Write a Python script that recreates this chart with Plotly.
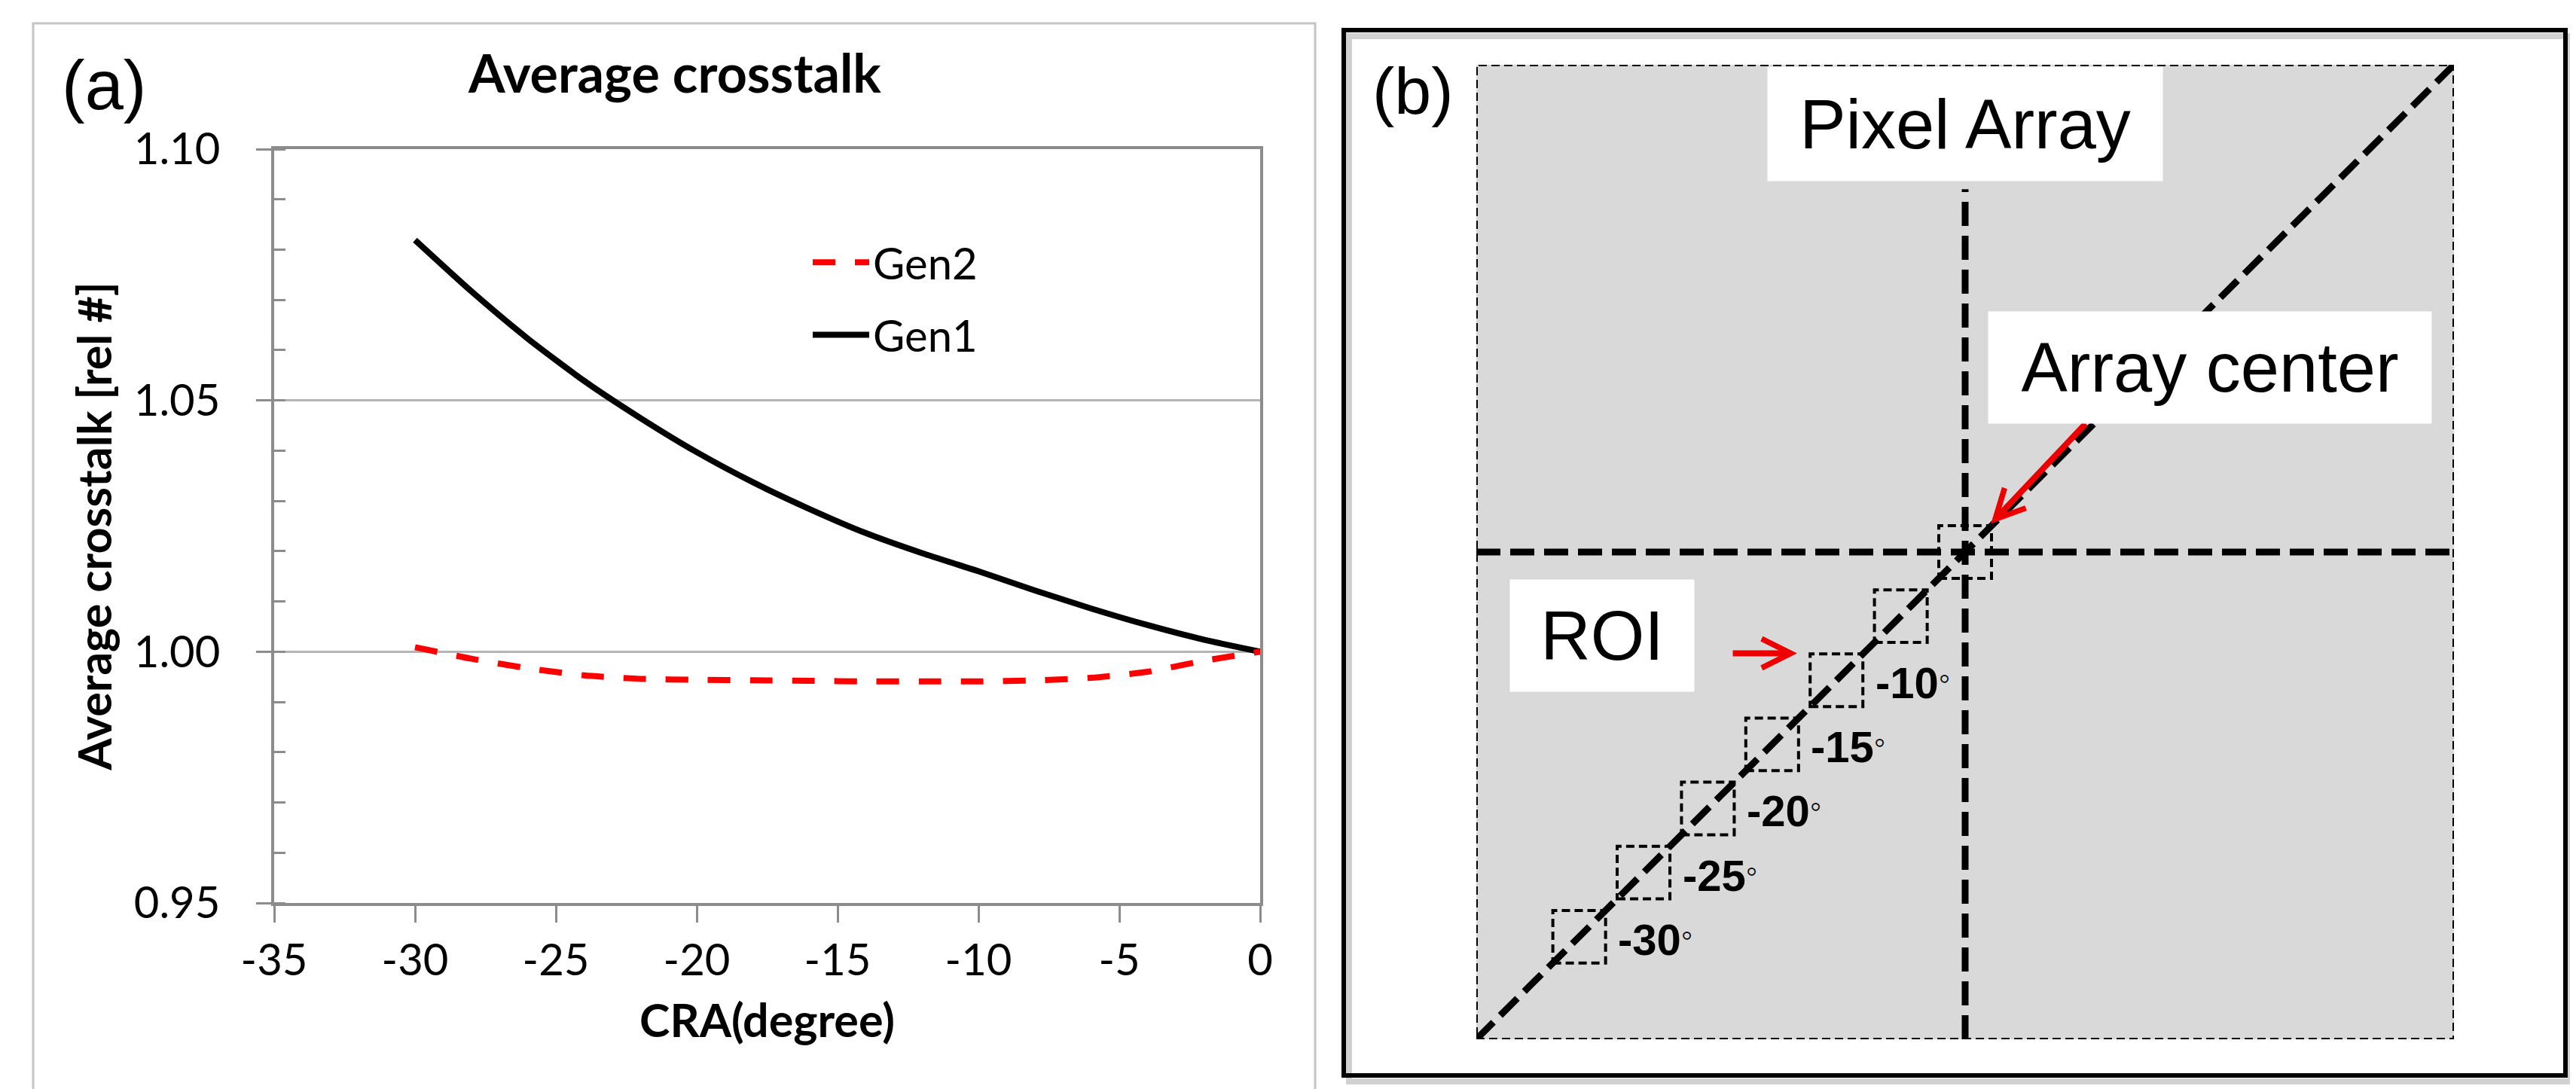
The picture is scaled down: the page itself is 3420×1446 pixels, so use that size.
import plotly.graph_objects as go

# ---- data: panel (a) average crosstalk vs chief ray angle ----
cra = [-30, -28, -26, -24, -22, -20, -18, -16, -14, -12, -10, -8, -6, -4, -2, 0]
gen1 = [1.0819, 1.0717, 1.0623, 1.0539, 1.0465, 1.0397, 1.0337, 1.0284,
        1.0236, 1.0196, 1.0160, 1.0122, 1.0086, 1.0053, 1.0024, 1.0000]
gen2 = [1.0009, 0.9986, 0.9967, 0.9953, 0.9946, 0.9944, 0.9943, 0.9942,
        0.9941, 0.9941, 0.9941, 0.9943, 0.9948, 0.9960, 0.9982, 1.0000]
x_ticks = [-35, -30, -25, -20, -15, -10, -5, 0]
x_tick_labels = ["-35", "-30", "-25", "-20", "-15", "-10", "-5", "0"]

# ---- data: panel (b) ROI positions along the array diagonal (degrees) ----
roi_angles = [0, -5, -10, -15, -20, -25, -30]
labeled_angles = [-10, -15, -20, -25, -30]

W, H = 3420, 1446
CAL = "Lato"
ARIAL = "Liberation Sans"
SPAN = 38          # half width of pixel array in degree units
BOX = 2.05         # half size of an ROI box


def px_x(p):
    return p / W


def px_y(p):
    return 1 - p / H


fig = go.Figure()

# panel (a) curves
fig.add_trace(go.Scatter(
    x=cra, y=gen1, mode="lines", name="Gen1",
    line=dict(color="black", width=8, shape="spline", smoothing=0.6),
    legendgroup="g1", legendrank=2, xaxis="x", yaxis="y"))
fig.add_trace(go.Scatter(
    x=cra, y=gen2, mode="lines", name="Gen2",
    line=dict(color="#ff0000", width=8, dash="30px,26px", shape="spline", smoothing=0.6),
    legendgroup="g2", legendrank=1, xaxis="x", yaxis="y"))

# panel (b) guide lines through array center
dash_thick = dict(color="black", width=9, dash="32px,13px")
fig.add_trace(go.Scatter(x=[-SPAN, SPAN], y=[-SPAN, SPAN], mode="lines",
                         line=dash_thick, showlegend=False, hoverinfo="skip",
                         xaxis="x2", yaxis="y2"))
fig.add_trace(go.Scatter(x=[-SPAN, SPAN], y=[roi_angles[0], roi_angles[0]], mode="lines",
                         line=dash_thick, showlegend=False, hoverinfo="skip",
                         xaxis="x2", yaxis="y2"))
fig.add_trace(go.Scatter(x=[roi_angles[0], roi_angles[0]], y=[-SPAN, 28.3], mode="lines",
                         line=dash_thick, showlegend=False, hoverinfo="skip",
                         xaxis="x2", yaxis="y2"))

shapes = []
# panel frames
shapes.append(dict(type="rect", xref="paper", yref="paper",
                   x0=px_x(36), x1=px_x(1738), y0=px_y(1444), y1=px_y(23),
                   line=dict(color="#c4c4c4", width=3), layer="below"))
shapes.append(dict(type="rect", xref="paper", yref="paper",
                   x0=px_x(1783), x1=px_x(3405), y0=px_y(1428), y1=px_y(40),
                   line=dict(color="rgba(0,0,0,0.18)", width=8), layer="below"))
shapes.append(dict(type="rect", xref="paper", yref="paper",
                   x0=px_x(1776), x1=px_x(3398), y0=px_y(1420), y1=px_y(32),
                   line=dict(color="black", width=6), layer="below"))
# pixel array
shapes.append(dict(type="rect", xref="x2", yref="y2",
                   x0=-SPAN, x1=SPAN, y0=-SPAN, y1=SPAN,
                   fillcolor="#d9d9d9", line=dict(color="black", width=4, dash="11px,6px"),
                   layer="below"))
# ROI boxes
for a in roi_angles:
    shapes.append(dict(type="rect", xref="x2", yref="y2",
                       x0=a - BOX, x1=a + BOX, y0=a - BOX, y1=a + BOX,
                       line=dict(color="black", width=4, dash="11px,6px"),
                       layer="above"))

annotations = []
# panel letters and title
annotations.append(dict(text="(a)", x=px_x(72), y=px_y(105), xref="paper", yref="paper",
                        xanchor="left", yanchor="middle", showarrow=False,
                        font=dict(family=ARIAL, size=92, color="black")))
annotations.append(dict(text="(b)", x=px_x(1812), y=px_y(113), xref="paper", yref="paper",
                        xanchor="left", yanchor="middle", showarrow=False,
                        font=dict(family=ARIAL, size=88, color="black")))
annotations.append(dict(text="<b>Average crosstalk</b>", x=px_x(887), y=px_y(88),
                        xref="paper", yref="paper", xanchor="center", yanchor="middle",
                        showarrow=False, font=dict(family=CAL, size=70, color="black")))

# angle labels
for a in labeled_angles:
    annotations.append(dict(
        text=f"<b>{a}</b><span style='font-size:44px;baseline-shift:12px'>◦</span>",
        x=a + 2.9, y=a - 0.2, xref="x2", yref="y2",
        xanchor="left", yanchor="middle", showarrow=False,
        font=dict(family=ARIAL, size=58, color="black")))

# red arrows
red = "#ee0000"
annotations.append(dict(x=2.0, y=2.2, ax=9.45, ay=10.1, xref="x2", yref="y2",
                        axref="x2", ayref="y2", text="", showarrow=True,
                        arrowhead=5, arrowsize=0.95, arrowwidth=8, arrowcolor=red))
annotations.append(dict(x=-13.06, y=-7.9, ax=-18.15, ay=-7.9, xref="x2", yref="y2",
                        axref="x2", ayref="y2", text="", showarrow=True,
                        arrowhead=5, arrowsize=0.95, arrowwidth=8, arrowcolor=red))

# callout boxes
callouts = [("Pixel Array", 0.0, 33.4, 524, 151),
            ("Array center", 19.04, 14.4, 588, 148),
            ("ROI", -28.2, -6.5, 244, 148)]
for txt, cx, cy, bw, bh in callouts:
    annotations.append(dict(text=txt, x=cx, y=cy, xref="x2", yref="y2",
                            xanchor="center", yanchor="middle", showarrow=False,
                            width=bw, height=bh, bgcolor="white", borderpad=0,
                            align="center", valign="middle",
                            font=dict(family=ARIAL, size=92, color="black")))

axis_grey = "#8c8c8c"
fig.update_layout(
    width=W, height=H,
    margin=dict(l=0, r=0, t=0, b=0, pad=0, autoexpand=False),
    paper_bgcolor="white", plot_bgcolor="white",
    showlegend=True,
    legend=dict(x=px_x(1066), y=px_y(296), xanchor="left", yanchor="top",
                font=dict(family=CAL, size=58, color="black"),
                bgcolor="rgba(0,0,0,0)", itemwidth=75, tracegroupgap=18),
    xaxis=dict(domain=[px_x(356), px_x(1665)], range=[-35, 0],
               tickvals=x_ticks, ticktext=x_tick_labels,
               ticks="outside", ticklen=22, tickwidth=3, tickcolor=axis_grey,
               showline=True, linecolor=axis_grey, linewidth=4, mirror=True,
               showgrid=False, zeroline=False, automargin=False,
               tickfont=dict(family=CAL, size=58, color="black"),
               title=dict(text="<b>CRA(degree)</b>", standoff=30,
                          font=dict(family=CAL, size=61, color="black"))),
    yaxis=dict(domain=[px_y(1191), px_y(190)], range=[0.95, 1.10], dtick=0.05,
               tickformat=".2f", ticks="outside", ticklen=20, tickwidth=3,
               tickcolor=axis_grey, showline=True, linecolor=axis_grey, linewidth=4,
               mirror=True, showgrid=True, gridcolor="#b4b4b4", gridwidth=3,
               zeroline=False, automargin=False, ticklabelstandoff=36,
               minor=dict(dtick=0.01, ticks="inside", ticklen=15, tickwidth=3,
                          tickcolor=axis_grey, showgrid=False),
               tickfont=dict(family=CAL, size=58, color="black"),
               title=dict(text="<b>Average crosstalk [rel #]</b>", standoff=10,
                          font=dict(family=CAL, size=61, color="black"))),
    xaxis2=dict(domain=[px_x(1952), px_x(3250)], range=[-SPAN, SPAN], visible=False),
    yaxis2=dict(domain=[px_y(1372), px_y(78)], range=[-SPAN, SPAN], visible=False),
    shapes=shapes,
    annotations=annotations,
)

fig.write_html("out.html")
